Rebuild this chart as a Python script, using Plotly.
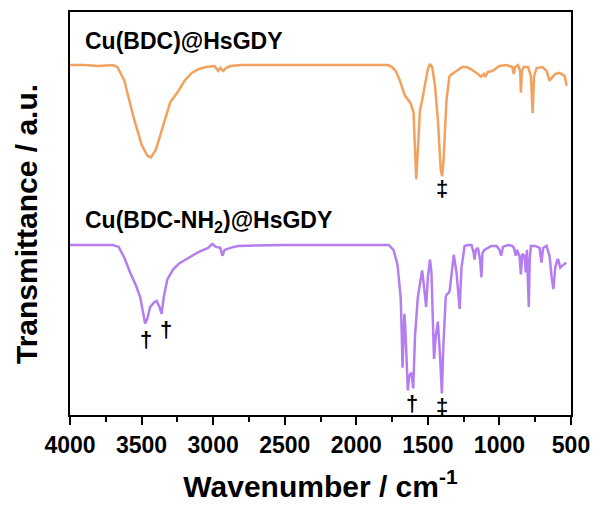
import plotly.graph_objects as go

# Cu(BDC)@HsGDY spectrum (wavenumber, transmittance a.u.)
wn_a = [4000, 3900, 3800, 3700, 3669, 3620, 3560, 3500, 3460, 3435, 3400, 3350, 3300, 3250, 3200,
        3150, 3100, 3050, 2990, 2965, 2950, 2930, 2910, 2880, 2800, 2400, 2000, 1780, 1750, 1725,
        1700, 1660, 1620, 1600, 1590, 1581, 1570, 1555, 1540, 1520, 1500, 1485, 1470, 1450, 1430,
        1410, 1400, 1390, 1370, 1350, 1340, 1320, 1300, 1260, 1230, 1200, 1160, 1130, 1110, 1100,
        1080, 1050, 1000, 950, 910, 900, 890, 870, 855, 850, 843, 830, 800, 780, 768, 758, 740,
        700, 670, 650, 640, 610, 580, 545, 530]
t_a = [356, 356, 355, 356, 354, 340, 305, 275, 264, 262, 270, 295, 318, 328, 340,
       348, 352, 354, 355, 350, 353, 350, 353, 355, 356, 356, 356, 356, 354, 350,
       342, 325, 317, 308, 270, 240, 270, 310, 320, 335, 352, 357, 354, 335, 300,
       250, 243, 260, 320, 344, 346, 348, 350, 354, 354, 352, 348, 344, 347, 344,
       349, 350, 355, 356, 354, 347, 354, 356, 350, 328, 350, 354, 354, 345, 307, 345, 353,
       354, 350, 340, 342, 347, 348, 345, 335]

# Cu(BDC-NH2)@HsGDY spectrum
wn_b = [4000, 3700, 3660, 3620, 3580, 3540, 3510, 3490, 3475, 3460, 3440, 3410, 3395, 3375, 3360,
        3345, 3320, 3280, 3240, 3194, 3100, 3035, 3007, 2980, 2950, 2935, 2920, 2880, 2828, 2500,
        1774, 1740, 1712, 1700, 1690, 1682, 1677, 1670, 1664, 1658, 1650, 1640, 1630, 1615, 1602,
        1590, 1570, 1550, 1540, 1530, 1512, 1500, 1485, 1475, 1465, 1457, 1445, 1430, 1415, 1402,
        1392, 1375, 1367, 1355, 1347, 1330, 1319, 1300, 1285, 1278, 1265, 1243, 1220, 1195, 1180,
        1174, 1165, 1150, 1135, 1126, 1118, 1105, 1080, 1057, 1020, 1000, 988, 975, 940, 910,
        899, 885, 878, 860, 850, 840, 825, 816, 808, 800, 795, 788, 780, 750, 720,
        706, 695, 671, 650, 635, 623, 610, 595, 589, 575, 560, 533]
t_b = [173, 173, 171, 160, 145, 132, 120, 105, 93, 98, 110, 115, 116, 110, 103,
       120, 138, 148, 154, 158, 166, 170, 174, 171, 170, 162, 168, 170, 172, 173,
       173, 168, 153, 135, 120, 80, 48, 80, 103, 90, 50, 25, 40, 43, 27,
       80, 120, 140, 147, 135, 110, 140, 158, 145, 90, 57, 80, 95, 60, 22,
       70, 120, 123, 124, 127, 150, 163, 145, 115, 108, 150, 172, 173, 173, 165,
       158, 168, 170, 158, 140, 165, 168, 170, 172, 172, 168, 162, 171, 173, 172,
       170, 162, 168, 162, 143, 164, 162, 145, 168, 140, 110, 160, 172, 172, 170,
       155, 170, 172, 162, 140, 128, 150, 158, 158, 150, 152, 155]

series_names = ["Cu(BDC)@HsGDY", "Cu(BDC-NH<sub>2</sub>)@HsGDY"]
series_colors = ["#F2A25E", "#B47EF0"]

# peak markers: (wavenumber, transmittance, symbol)
marks_x = [1400, 3470, 3330, 1608, 1400]
marks_y = [230, 77, 87, 12, 9]
marks_s = ["‡", "†", "†", "†", "‡"]

label_x = [3910, 3910]
label_y = [381, 197]

tick_vals = [4000, 3500, 3000, 2500, 2000, 1500, 1000, 500]

FONT = "Arial, Liberation Sans, sans-serif"

fig = go.Figure()
fig.add_trace(go.Scatter(x=wn_a, y=t_a, mode="lines", line=dict(color=series_colors[0], width=2.5),
                         name=series_names[0], showlegend=False))
fig.add_trace(go.Scatter(x=wn_b, y=t_b, mode="lines", line=dict(color=series_colors[1], width=2.5),
                         name=series_names[1], showlegend=False))

for nm, lx, ly in zip(series_names, label_x, label_y):
    fig.add_annotation(x=lx, y=ly, text=nm, showarrow=False, xanchor="left", yanchor="middle",
                       font=dict(family=FONT, size=23, color="black", weight="bold"))

for mx, my, ms in zip(marks_x, marks_y, marks_s):
    fig.add_annotation(x=mx, y=my, text=ms, showarrow=False, xanchor="center", yanchor="middle",
                       font=dict(family=FONT, size=22, color="black", weight="bold"))

fig.add_annotation(xref="paper", yref="paper", x=-0.087, y=0.475, text="Transmittance / a.u.",
                   textangle=-90, showarrow=False, xanchor="center", yanchor="middle",
                   font=dict(family=FONT, size=30, color="black", weight="bold"))

fig.update_xaxes(range=[4000, 500], tickvals=tick_vals, ticktext=[str(v) for v in tick_vals],
                 ticks="outside", ticklen=8, tickwidth=2, tickcolor="black",
                 minor=dict(ticks="outside", dtick=250, tick0=500, ticklen=5, tickwidth=2, tickcolor="black"),
                 showline=True, linewidth=2, linecolor="black", mirror=True, showgrid=False, zeroline=False,
                 tickfont=dict(family=FONT, size=23, color="black", weight="bold"),
                 title=dict(text="Wavenumber / cm<sup>-1</sup>", standoff=19,
                            font=dict(family=FONT, size=30, color="black", weight="bold")))
fig.update_yaxes(range=[0, 410], showticklabels=False, ticks="", showline=True, linewidth=2,
                 linecolor="black", mirror=True, showgrid=False, zeroline=False)

fig.update_layout(width=600, height=508, margin=dict(l=70, r=22, t=10, b=88),
                  paper_bgcolor="white", plot_bgcolor="white")

fig.write_html("out.html")
